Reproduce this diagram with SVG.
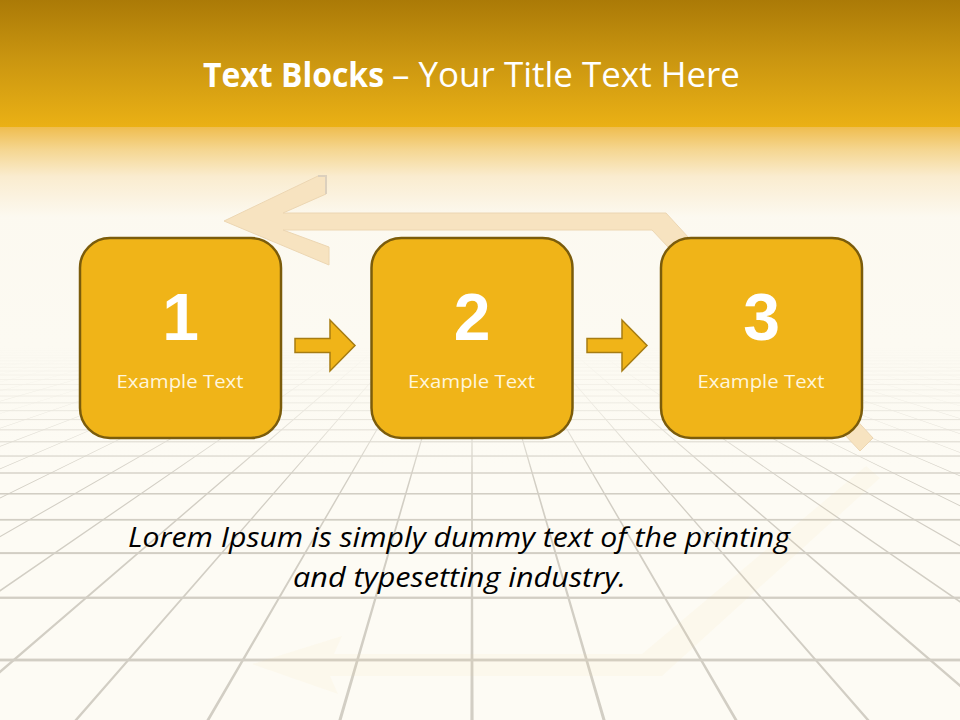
<svg xmlns="http://www.w3.org/2000/svg" width="960" height="720" viewBox="0 0 960 720">
<style>
.box{fill:#f0b418;stroke:#7b5c0b;stroke-width:2.5}
.num{font-family:"Liberation Sans",Arial,sans-serif;font-weight:bold;font-size:66px;fill:#ffffff;text-anchor:middle}
.lbl{font-family:"Open Sans","Liberation Sans",sans-serif;font-size:19px;fill:#fff6dc;text-anchor:middle}
.step{fill:#f0b418;stroke:#a67c12;stroke-width:1.5}
.title{font-family:"Open Sans","Liberation Sans",sans-serif;font-size:34px;fill:#ffffff}
.body{font-family:"Open Sans","Liberation Sans",sans-serif;font-size:28px;font-style:italic;fill:#000000;text-anchor:middle}
.hl{fill:#d2cec4}
</style>
<defs>
<linearGradient id="banner" x1="0" y1="0" x2="0" y2="1">
<stop offset="0" stop-color="#ab7a07"/>
<stop offset="0.45" stop-color="#c99510"/>
<stop offset="1" stop-color="#ebb115"/>
</linearGradient>
<linearGradient id="topfog" x1="0" y1="0" x2="0" y2="1">
<stop offset="0" stop-color="#efbd4f"/>
<stop offset="0.25" stop-color="#f5d690"/>
<stop offset="0.55" stop-color="#faeccf"/>
<stop offset="1" stop-color="#fcf9f0"/>
</linearGradient>
<linearGradient id="gridfog" gradientUnits="userSpaceOnUse" x1="0" y1="200" x2="0" y2="480">
<stop offset="0" stop-color="#fcf9f0" stop-opacity="1"/>
<stop offset="0.52" stop-color="#fcfaf2" stop-opacity="1"/>
<stop offset="0.74" stop-color="#fcfaf2" stop-opacity="0.6"/>
<stop offset="1" stop-color="#fdfbf4" stop-opacity="0"/>
</linearGradient>
</defs>

<g id="background">
<rect x="0" y="0" width="960" height="720" fill="#fdfbf4"/>
<g id="grid">
<path class="hl" d="M472,266L-3490,720L-3486,720Z M472,266L-3358,720L-3354,720Z M472,266L-3226,720L-3222,720Z M472,266L-3094,720L-3090,720Z M472,266L-2962,720L-2958,720Z M472,266L-2830,720L-2826,720Z M472,266L-2698,720L-2694,720Z M472,266L-2566,720L-2562,720Z M472,266L-2434,720L-2430,720Z M472,266L-2302,720L-2298,720Z M472,266L-2170,720L-2166,720Z M472,266L-2038,720L-2034,720Z M472,266L-1906,720L-1902,720Z M472,266L-1774,720L-1770,720Z M472,266L-1642,720L-1638,720Z M472,266L-1510,720L-1506,720Z M472,266L-1378,720L-1374,720Z M472,266L-1246,720L-1242,720Z M472,266L-1114,720L-1110,720Z M472,266L-982,720L-978,720Z M472,266L-850,720L-846,720Z M472,266L-718,720L-714,720Z M472,266L-586,720L-582,720Z M472,266L-454,720L-450,720Z M472,266L-322,720L-318,720Z M472,266L-190,720L-186,720Z M472,266L-58,720L-54,720Z M472,266L74.4,720L77.6,720Z M472,266L206.4,720L209.6,720Z M472,266L338.4,720L341.6,720Z M472,266L470.4,720L473.6,720Z M472,266L602.4,720L605.6,720Z M472,266L734.4,720L737.6,720Z M472,266L866.4,720L869.6,720Z M472,266L998,720L1002,720Z M472,266L1130,720L1134,720Z M472,266L1262,720L1266,720Z M472,266L1394,720L1398,720Z M472,266L1526,720L1530,720Z M472,266L1658,720L1662,720Z M472,266L1790,720L1794,720Z M472,266L1922,720L1926,720Z M472,266L2054,720L2058,720Z M472,266L2186,720L2190,720Z M472,266L2318,720L2322,720Z M472,266L2450,720L2454,720Z M472,266L2582,720L2586,720Z M472,266L2714,720L2718,720Z M472,266L2846,720L2850,720Z M472,266L2978,720L2982,720Z M472,266L3110,720L3114,720Z M472,266L3242,720L3246,720Z M472,266L3374,720L3378,720Z M472,266L3506,720L3510,720Z M472,266L3638,720L3642,720Z M472,266L3770,720L3774,720Z M472,266L3902,720L3906,720Z M472,266L4034,720L4038,720Z M472,266L4166,720L4170,720Z M472,266L4298,720L4302,720Z M472,266L4430,720L4434,720Z"/>
<rect class="hl" x="0" y="658.6" width="960" height="2.8"/>
<rect class="hl" x="0" y="596.6" width="960" height="2.3"/>
<rect class="hl" x="0" y="552.1" width="960" height="2"/>
<rect class="hl" x="0" y="518.9" width="960" height="1.75"/>
<rect class="hl" x="0" y="493" width="960" height="1.55"/>
<rect class="hl" x="0" y="472.3" width="960" height="1.4"/>
<rect class="hl" x="0" y="455.4" width="960" height="1.27"/>
<rect class="hl" x="0" y="441.2" width="960" height="1.17"/>
<rect class="hl" x="0" y="429.3" width="960" height="1.08"/>
<rect class="hl" x="0" y="419.1" width="960" height="1"/>
<rect class="hl" x="0" y="410.2" width="960" height="0.95"/>
<rect class="hl" x="0" y="402.4" width="960" height="0.9"/>
<rect class="hl" x="0" y="395.6" width="960" height="0.85"/>
<rect class="hl" x="0" y="389.5" width="960" height="0.8"/>
<rect class="hl" x="0" y="384" width="960" height="0.8"/>
<rect class="hl" x="0" y="379.1" width="960" height="0.8"/>
<rect class="hl" x="0" y="374.6" width="960" height="0.8"/>
<rect class="hl" x="0" y="370.6" width="960" height="0.8"/>
<rect class="hl" x="0" y="366.9" width="960" height="0.8"/>
<rect class="hl" x="0" y="363.5" width="960" height="0.8"/>
<rect class="hl" x="0" y="360.4" width="960" height="0.8"/>
<rect class="hl" x="0" y="357.5" width="960" height="0.8"/>
<rect class="hl" x="0" y="354.9" width="960" height="0.8"/>
<rect class="hl" x="0" y="352.4" width="960" height="0.8"/>
<rect class="hl" x="0" y="350.1" width="960" height="0.8"/>
<rect class="hl" x="0" y="347.9" width="960" height="0.8"/>
</g>
<polygon points="866,466 880,478 662,676 330,676 338,694 252,664 342,636 334,654 642,654" fill="#f1dc98" opacity="0.08"/>
<rect x="0" y="200" width="960" height="280" fill="url(#gridfog)"/>
<rect x="0" y="0" width="960" height="128" fill="url(#banner)"/>
<rect x="0" y="127" width="960" height="90" fill="url(#topfog)"/>
</g>

<g id="title">
<text class="title" x="203" y="87" font-weight="bold" textLength="181" lengthAdjust="spacingAndGlyphs">Text Blocks</text>
<text class="title" x="392" y="87" textLength="348" lengthAdjust="spacingAndGlyphs">– Your Title Text Here</text>
</g>

<g id="cycle-arrow">
<polygon points="224,221 318,176 326,176 326,194 283,213 666,213 873,438 860,451 652,230 283,230 329,247 329,265" fill="#f7e3c0" stroke="#ecd6b2" stroke-width="1"/>
<polyline points="318,176 326,176 326,194" fill="none" stroke="#dcd0bd" stroke-width="2"/>
</g>

<g id="connectors">
<polygon class="step" points="295,338.5 330,338.5 330,320 355,345.5 330,371 330,352.5 295,352.5"/>
<polygon class="step" points="587,338.5 622,338.5 622,320 647,345.5 622,371 622,352.5 587,352.5"/>
</g>

<g id="node1">
<rect class="box" x="80" y="238" width="201" height="200" rx="30" ry="30"/>
<text class="num" x="180.5" y="340">1</text>
<text class="lbl" x="180" y="388" textLength="127" lengthAdjust="spacingAndGlyphs">Example Text</text>
</g>
<g id="node2">
<rect class="box" x="371.5" y="238" width="201" height="200" rx="30" ry="30"/>
<text class="num" x="472" y="340">2</text>
<text class="lbl" x="471.5" y="388" textLength="127" lengthAdjust="spacingAndGlyphs">Example Text</text>
</g>
<g id="node3">
<rect class="box" x="661" y="238" width="201" height="200" rx="30" ry="30"/>
<text class="num" x="761.5" y="340">3</text>
<text class="lbl" x="761" y="388" textLength="127" lengthAdjust="spacingAndGlyphs">Example Text</text>
</g>

<g id="body-text">
<text class="body" x="459" y="547" textLength="662" lengthAdjust="spacingAndGlyphs">Lorem Ipsum is simply dummy text of the printing</text>
<text class="body" x="459.5" y="587" textLength="333" lengthAdjust="spacingAndGlyphs">and typesetting industry.</text>
</g>
</svg>
